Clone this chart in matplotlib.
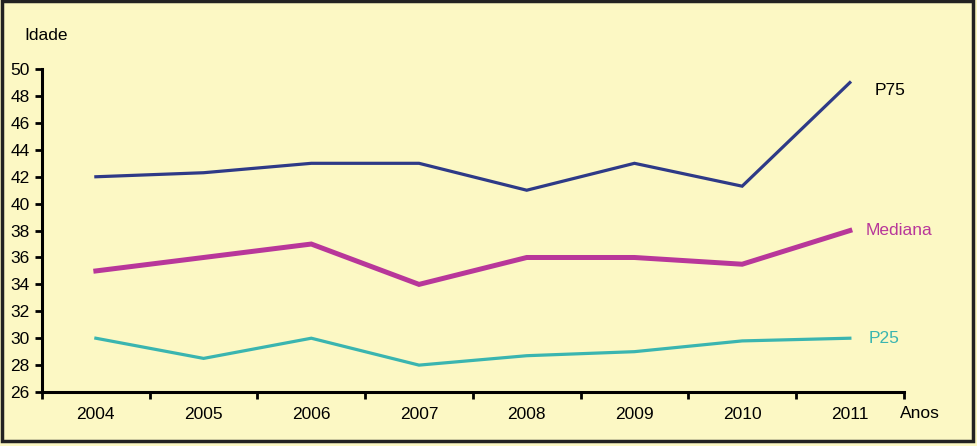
import numpy as np
import matplotlib.pyplot as plt
from matplotlib.patches import Rectangle

# Dados
anos = ['2004', '2005', '2006', '2007', '2008', '2009', '2010', '2011']
p75 = [42, 42.3, 43, 43, 41, 43, 41.3, 49]
mediana = [35, 36, 37, 34, 36, 36, 35.5, 38]
p25 = [30, 28.5, 30, 28, 28.7, 29, 29.8, 30]

bg = '#FCF8C4'
fs = 12.5
plt.rcParams['font.family'] = ['Liberation Sans', 'DejaVu Sans']

fig = plt.figure(figsize=(9.77, 4.46), dpi=100, facecolor=bg)
ax = fig.add_axes([0.043, 0.121, 0.882, 0.724], facecolor=bg)

x = np.arange(len(anos))
ax.plot(x, p75, color='#2E3A87', lw=2.3, solid_joinstyle='miter')
ax.plot(x, mediana, color='#B8379A', lw=3.6, solid_joinstyle='miter')
ax.plot(x, p25, color='#3AB5B0', lw=2.3, solid_joinstyle='miter')

ax.set_xlim(-0.5, len(anos) - 0.5)
ax.set_ylim(26, 50)
ax.set_yticks(np.arange(26, 51, 2))

# ticks nas fronteiras das categorias, rótulos no centro
ax.set_xticks(np.arange(-0.5, len(anos), 1))
ax.set_xticklabels([])
ax.set_xticks(x, minor=True)
ax.set_xticklabels(anos, minor=True)
ax.tick_params(axis='x', which='minor', length=0, pad=11, labelsize=fs)
ax.tick_params(axis='x', which='major', length=5, width=2, direction='out')
ax.tick_params(axis='y', length=5, width=2, direction='out', pad=4, labelsize=fs)

for s in ['top', 'right']:
    ax.spines[s].set_visible(False)
for s in ['left', 'bottom']:
    ax.spines[s].set_linewidth(2.2)

# rótulos das séries
ax.text(7.23, p75[-1] - 0.6, 'P75', color='black', fontsize=fs, va='center', ha='left')
ax.text(7.15, mediana[-1], 'Mediana', color='#B8379A', fontsize=fs, va='center', ha='left')
ax.text(7.17, p25[-1], 'P25', color='#3AB5B0', fontsize=fs, va='center', ha='left')

fig.text(0.025, 0.92, 'Idade', fontsize=fs, va='center', ha='left')
fig.text(0.921, 0.073, 'Anos', fontsize=fs, va='center', ha='left')

# moldura
fig.patches.append(Rectangle((0.002, 0.012), 0.994, 0.985, transform=fig.transFigure,
                             fill=False, edgecolor='#222222', lw=2.5))

fig.savefig('out.png', dpi=100, facecolor=bg)
